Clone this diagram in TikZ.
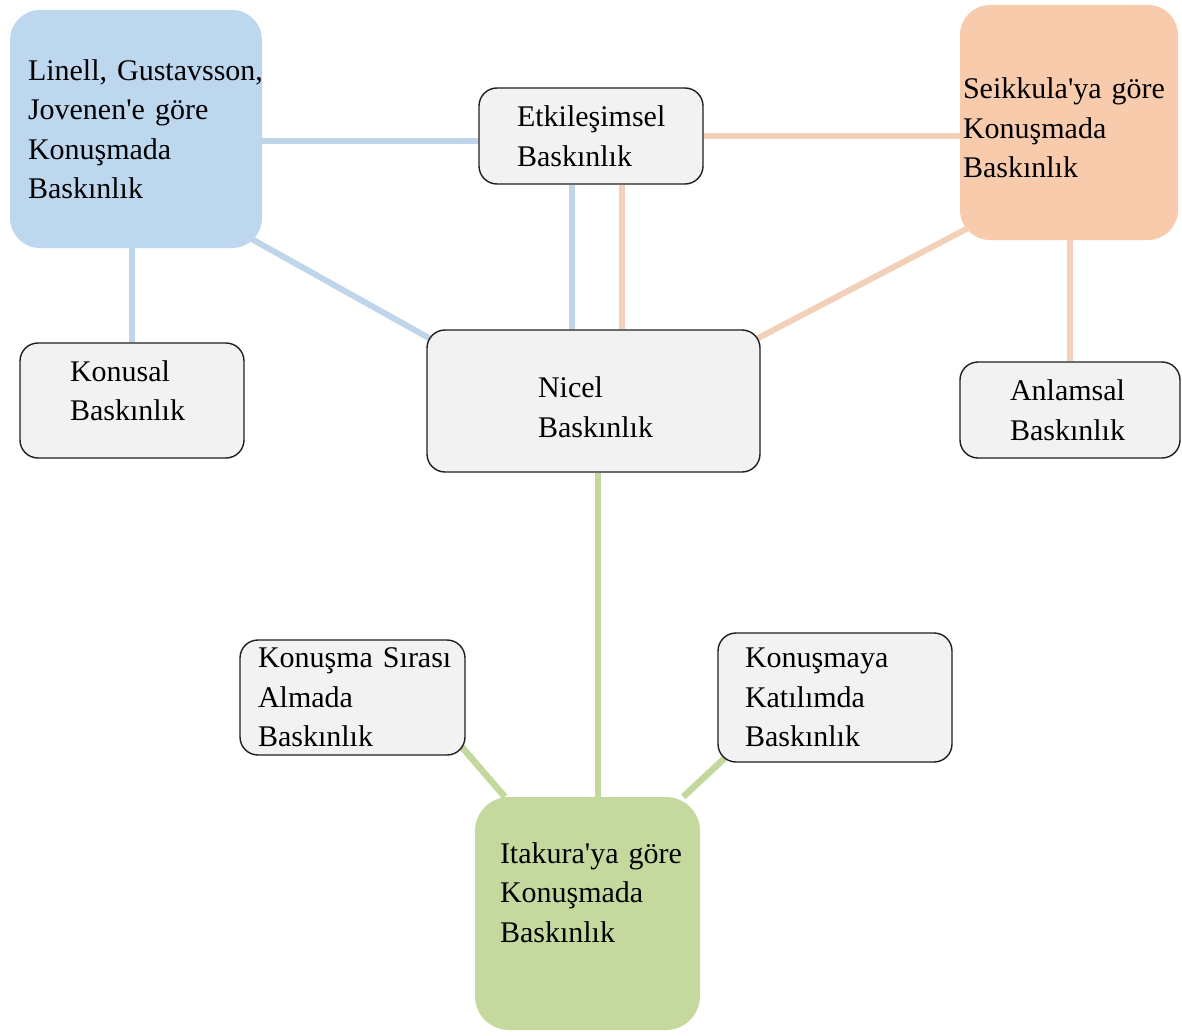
\documentclass[tikz,border=0pt]{standalone}
\usepackage{fontspec}
\setmainfont{Liberation Serif}[Ligatures=TeXOff]
\usetikzlibrary{backgrounds}
\definecolor{bluefill}{HTML}{BDD7EE}
\definecolor{blueline}{HTML}{BFD5E9}
\definecolor{orfill}{HTML}{F8CBAD}
\definecolor{orline}{HTML}{F3D1B8}
\definecolor{grfill}{HTML}{C5D99F}
\definecolor{grline}{HTML}{C3D89C}
\definecolor{boxfill}{HTML}{F2F2F2}
\newcommand\txtup[1]{\rule[-#1]{0pt}{#1}}
\newcommand\txtdown[1]{\rule{0pt}{#1}}
\frenchspacing
\begin{document}
\begin{tikzpicture}[x=1pt,y=-1pt,
  txt/.style={font=\fontsize{30}{39.5}\selectfont, align=left, text=black, inner ysep=0pt},
  headbox/.style={txt, rounded corners=30pt, draw=none},
  subbox/.style={txt, rounded corners=18pt, draw=black!88, line width=1.4pt, fill=boxfill},
  bl/.style={draw=blueline, line width=6pt},
  orl/.style={draw=orline, line width=6pt},
  grl/.style={draw=grline, line width=6.5pt}
]
\useasboundingbox (0,0) rectangle (1182,1035);

% main category boxes
\node[headbox, fill=bluefill, minimum width=252pt, minimum height=238pt, text width=216pt, inner xsep=18pt] (blue) at (136,129)
  {\mbox{Linell, Gustavsson,}\\\mbox{Jovenen'e göre}\\\mbox{Konuşmada}\\\mbox{Baskınlık}};
\node[headbox, fill=orfill, minimum width=218pt, minimum height=235pt, text width=212pt, inner xsep=3pt] (orange) at (1069,122.5)
  {\txtdown{32pt}\mbox{Seikkula'ya göre}\\\mbox{Konuşmada}\\\mbox{Baskınlık}};
\node[headbox, rounded corners=34pt, fill=grfill, minimum width=225pt, minimum height=233pt, text width=175pt, inner xsep=25pt] (green) at (587.5,913.5)
  {\mbox{Itakura'ya göre}\\\mbox{Konuşmada}\\\mbox{Baskınlık}\txtup{42pt}};

% sub boxes
\node[subbox, minimum width=224pt, minimum height=96pt, text width=148pt, inner xsep=38pt] (etk) at (591,136)
  {\mbox{Etkileşimsel}\\\mbox{Baskınlık}};
\node[subbox, minimum width=224pt, minimum height=115pt, text width=124pt, inner xsep=50pt] (konusal) at (132,400.5)
  {\mbox{Konusal}\\\mbox{Baskınlık}\txtup{20pt}};
\node[subbox, minimum width=333pt, minimum height=142pt, text width=111pt, inner xsep=111pt] (nicel) at (593.5,401)
  {\txtdown{33pt}\mbox{Nicel}\\\mbox{Baskınlık}};
\node[subbox, minimum width=220pt, minimum height=96pt, text width=120pt, inner xsep=50pt] (anlamsal) at (1070,410)
  {\mbox{Anlamsal}\\\mbox{Baskınlık}};
\node[subbox, minimum width=225pt, minimum height=115pt, text width=189pt, inner xsep=18pt] (sira) at (352.5,697.5)
  {\mbox{Konuşma Sırası}\\\mbox{Almada}\\\mbox{Baskınlık}};
\node[subbox, minimum width=234pt, minimum height=129pt, text width=180pt, inner xsep=27pt] (katil) at (835,697.5)
  {\mbox{Konuşmaya}\\\mbox{Katılımda}\\\mbox{Baskınlık}};

% connector end points
\coordinate (bl1) at ([yshift=-5pt]etk.west);
\coordinate (bl2) at ([xshift=-19pt]etk.south);
\coordinate (or2) at ([xshift=31pt]etk.south);
\coordinate (gr1) at ([xshift=4.5pt]nicel.south);

% connectors
\begin{scope}[on background layer]
  \fill[white] (0,0) rectangle (1182,1035);
  \draw[bl] (blue.east |- bl1) -- (bl1);
  \draw[bl] (konusal.north |- blue.south) -- (konusal.north);
  \draw[bl] ([xshift=-12pt,yshift=10pt]blue.south east) -- ([xshift=5pt,yshift=-10pt]nicel.north west);
  \draw[bl] (bl2) -- (bl2 |- nicel.north);
  \draw[orl] (or2) -- (or2 |- nicel.north);
  \draw[orl] (etk.east) -- (orange.west |- etk.east);
  \draw[orl] ([xshift=8pt,yshift=12pt]orange.south west) -- ([xshift=-5pt,yshift=-10pt]nicel.north east);
  \draw[orl] (anlamsal.north |- orange.south) -- (anlamsal.north);
  \draw[grl] (gr1) -- (gr1 |- green.north);
  \draw[grl] ([xshift=-5pt,yshift=10pt]sira.south east) -- ([xshift=30pt]green.north west);
  \draw[grl] ([xshift=10pt,yshift=7pt]katil.south west) -- ([xshift=-17pt]green.north east);
\end{scope}
\end{tikzpicture}
\end{document}
